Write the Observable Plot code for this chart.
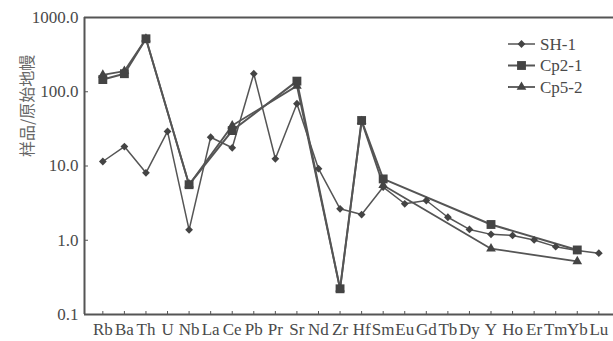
<!DOCTYPE html>
<html><head><meta charset="utf-8">
<script src="https://cdn.jsdelivr.net/npm/d3@7"></script>
<script src="https://cdn.jsdelivr.net/npm/@observablehq/plot@0.6"></script>
<style>
body{margin:0;background:#fff;}
#chart{position:relative;width:613px;height:341px;overflow:hidden;}
</style></head><body><div id="chart"></div>
<script>
const elements = ["Rb","Ba","Th","U","Nb","La","Ce","Pb","Pr","Sr","Nd","Zr","Hf","Sm","Eu","Gd","Tb","Dy","Y","Ho","Er","Tm","Yb","Lu"];
const sh1  = [11.5,18.3,8.1,29.2,1.38,24.4,17.6,175,12.5,69,9.2,2.65,2.22,5.2,3.1,3.43,2.04,1.4,1.2,1.16,1.01,0.82,0.73,0.67];
const cp21 = [146,175,517,null,5.6,null,30,null,null,139,null,0.222,41,6.7,null,null,null,null,1.63,null,null,null,0.74,null];
const cp52 = [169,190,517,null,5.6,null,35,null,null,120,null,0.222,40,5.5,null,null,null,null,0.77,null,null,null,0.52,null];
const seriesNames = ["SH-1","Cp2-1","Cp5-2"];
const seriesSymbols = ["diamond2","square","triangle"];
const yTicks = [0.1,1,10,100,1000];
const yTitle = "样品/原始地幔";

const seriesValues = [sh1, cp21, cp52];
const seriesR = [3.5, 5, 3.6];
const seriesSW = [1.5, 2, 1.8];
const ink = "#555";
const serif = "'Liberation Serif', 'Times New Roman', serif";

const xDomain = [-0.85, 23.68];
const marks = [
  Plot.ruleY([yTicks[0], yTicks[yTicks.length-1]], {stroke: ink, strokeWidth: 2}),
  Plot.ruleX([xDomain[0]], {stroke: ink, strokeWidth: 2}),
  Plot.axisY(yTicks, {anchor: "left", tickSize: 0, tickPadding: 6, tickFormat: d => d.toFixed(1), label: null, fill: "#4a4a4a", fontSize: 17, fontFamily: serif}),
  Plot.axisY(yTicks.slice(1, 4), {anchor: "right", frameAnchor: "left", tickSize: 3, tickFormat: () => "", label: null, stroke: ink}),
  Plot.axisX(d3.range(elements.length), {anchor: "bottom", tickSize: 0, tickPadding: 8, tickFormat: i => elements[i], label: null, fill: "#4a4a4a", fontSize: 17, fontFamily: serif}),
  Plot.axisX(d3.range(elements.length), {anchor: "top", frameAnchor: "bottom", tickSize: 4, tickFormat: () => "", label: null, stroke: ink}),
  Plot.text([yTitle], {frameAnchor: "left", rotate: -90, dx: -57, dy: -9, fill: "#666", fontSize: 16, fontFamily: "'Noto Sans CJK SC', sans-serif", letterSpacing: "3.5px"})
];
seriesValues.forEach((arr, s) => {
  const rows = arr.map((v, i) => ({i, el: elements[i], v})).filter(d => d.v != null);
  marks.push(Plot.line(rows, {x: "i", y: "v", stroke: ink, strokeWidth: seriesSW[s]}));
});
seriesValues.forEach((arr, s) => {
  const rows = arr.map((v, i) => ({i, el: elements[i], v, series: seriesNames[s]})).filter(d => d.v != null);
  marks.push(Plot.dot(rows, {x: "i", y: "v", symbol: "series", fill: "#444", r: seriesR[s]}));
});

const plot = Plot.plot({
  width: 613, height: 341,
  marginTop: 17, marginBottom: 27, marginLeft: 84, marginRight: 0,
  style: {fontFamily: serif, fontSize: "17px", color: ink, background: "#fff"},
  x: {type: "linear", domain: xDomain},
  y: {type: "log", domain: [yTicks[0], yTicks[yTicks.length-1]]},
  symbol: {domain: seriesNames, range: seriesSymbols},
  marks
});
document.getElementById("chart").appendChild(plot);

// legend inside the plot area (top right)
const svg = d3.select(plot);
const lg = svg.append("g").attr("transform", "translate(508,44)").attr("text-anchor", "start");
const d3Sym = {diamond2: d3.symbolDiamond2, square: d3.symbolSquare, triangle: d3.symbolTriangle};
seriesNames.forEach((name, s) => {
  const g = lg.append("g").attr("transform", `translate(0,${s * 21.5})`);
  g.append("line").attr("x1", 0).attr("x2", 27).attr("y1", 0).attr("y2", 0).attr("stroke", ink).attr("stroke-width", seriesSW[s]);
  g.append("path").attr("transform", "translate(13.5,0)").attr("fill", "#444")
    .attr("d", d3.symbol(d3Sym[seriesSymbols[s]], Math.PI * seriesR[s] * seriesR[s])());
  g.append("text").attr("x", 32).attr("y", 0).attr("dy", "0.35em").attr("fill", "#4a4a4a")
    .attr("text-anchor", "start")
    .attr("font-size", 17).attr("font-family", serif).text(name);
});
</script></body></html>
